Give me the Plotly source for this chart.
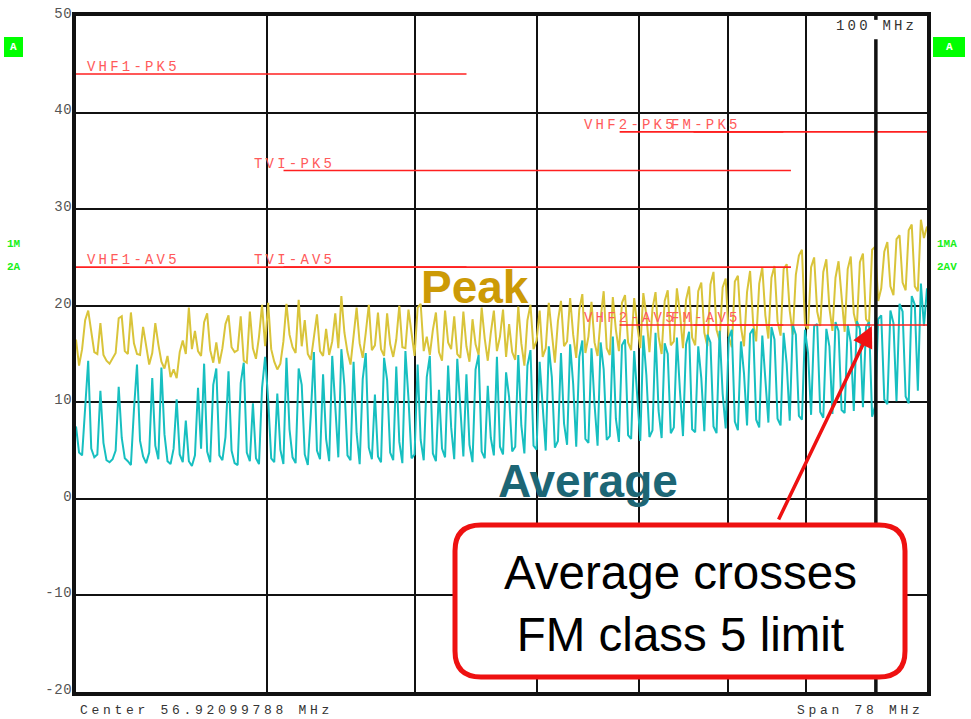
import numpy as np
import plotly.graph_objects as go

# ---- sweep settings (log frequency axis) ----
F_START_MHZ = 30.0
F_STOP_MHZ = 108.0
MARKER_MHZ = 100.0

# ---- measured traces, dBuV, one value per sweep point ----
peak_dbuv = [
    16.5, 13.8, 15.5, 18.5, 19.5, 17.2, 15.2, 15.0, 18.2, 14.9, 14.3, 14.0, 14.6, 15.1, 18.7, 18.9, 15.3, 15.0, 19.3, 16.1,
    15.0, 14.9, 17.8, 15.8, 13.9, 15.1, 18.2, 16.0, 14.2, 13.5, 14.8, 12.6, 13.4, 12.5, 15.2, 16.4, 15.0, 19.8, 15.5, 17.4,
    15.3, 14.8, 18.3, 19.2, 15.4, 14.1, 16.2, 14.0, 15.6, 18.1, 19.0, 15.7, 15.2, 15.4, 18.9, 14.3, 14.1, 19.4, 15.6, 14.5,
    16.8, 20.1, 15.8, 20.3, 15.5, 14.2, 13.4, 14.0, 16.3, 20.2, 17.0, 15.7, 15.1, 20.6, 15.8, 18.5, 15.0, 14.4, 16.6, 19.1,
    15.3, 14.8, 17.6, 14.9, 16.3, 19.2, 15.6, 21.0, 17.2, 15.2, 13.9, 16.8, 19.8, 16.1, 14.6, 17.2, 20.1, 15.4, 15.9, 19.3,
    15.5, 14.8, 19.2, 16.0, 14.7, 16.5, 20.0, 15.7, 15.6, 19.6, 17.0, 14.8, 19.8, 20.2, 15.3, 16.8, 14.9, 17.5, 19.3, 15.2,
    14.3, 19.5, 16.2, 15.5, 18.9, 15.0, 14.6, 19.4, 15.8, 14.2, 18.6, 16.0, 14.9, 19.8, 16.6, 14.3, 17.2, 19.5, 15.3, 16.8,
    19.6, 14.7, 18.1, 15.2, 14.4, 19.9, 16.1, 13.8, 18.5, 20.1, 15.5, 16.4, 19.5, 14.7, 15.6, 20.3, 17.2, 14.1, 18.4, 20.5,
    15.8, 16.3, 20.8, 17.0, 14.6, 19.6, 21.2, 15.1, 16.8, 20.4, 16.2, 14.8, 18.7, 21.5, 15.6, 14.9, 20.9, 17.5, 15.3, 20.3,
    21.1, 16.2, 15.4, 20.8, 18.0, 15.6, 21.3, 19.0, 15.2, 19.7, 21.4, 16.8, 15.0, 20.5, 21.6, 15.9, 16.3, 21.8, 19.2, 15.6,
    20.6, 22.0, 16.7, 15.9, 21.5, 22.4, 17.2, 15.8, 22.2, 23.5, 17.5, 16.4, 21.9, 22.8, 16.8, 15.7, 22.5, 23.1, 17.8, 15.8,
    21.4, 23.6, 18.2, 16.3, 22.3, 24.0, 19.0, 16.6, 22.9, 24.1, 18.4, 16.9, 23.8, 24.3, 19.5, 17.0, 23.2, 25.2, 25.8, 18.0,
    17.6, 24.0, 25.0, 19.4, 17.9, 23.5, 24.8, 19.8, 17.4, 22.9, 24.6, 20.6, 17.3, 23.8, 25.1, 19.2, 17.8, 24.5, 25.4, 18.6,
    18.2, 25.8, 26.1, 20.5, 21.8, 25.6, 26.6, 22.0, 21.1, 26.9, 27.3, 22.4, 21.6, 27.8, 28.4, 22.0, 21.5, 28.9, 27.0, 28.2,
]

avg_dbuv = [
    7.5, 4.8, 4.5, 9.8, 14.3, 5.2, 4.3, 4.6, 11.2, 5.8, 4.0, 3.8, 4.1, 5.0, 11.6, 6.3, 4.2, 3.9, 3.5, 9.2,
    13.9, 6.0, 4.4, 3.7, 4.8, 12.5, 5.5, 4.1, 13.6, 6.7, 3.9, 3.6, 5.2, 10.3, 4.6, 3.8, 8.1, 3.9, 3.4, 4.5,
    11.5, 5.2, 14.0, 4.9, 3.8, 11.8, 13.5, 4.5, 4.0, 6.4, 13.2, 5.0, 3.7, 3.5, 12.0, 14.1, 4.8, 3.9, 9.9, 4.2,
    3.6, 11.5, 14.7, 10.3, 4.2, 3.8, 10.9, 5.1, 3.6, 14.6, 7.2, 4.3, 3.7, 13.5, 11.8, 4.6, 3.5, 8.8, 15.2, 5.0,
    4.1, 12.9, 6.2, 3.9, 14.8, 9.6, 4.3, 15.5, 11.7, 4.5, 4.0, 14.2, 6.8, 3.6, 12.4, 15.1, 5.3, 4.1, 10.8, 4.4,
    3.8, 14.6, 12.3, 4.8, 4.0, 13.7, 5.9, 3.7, 15.3, 10.4, 4.2, 4.6, 13.9, 6.1, 4.0, 12.6, 14.8, 4.7, 3.9, 11.3,
    5.2, 4.3, 13.8, 7.4, 4.1, 14.5, 9.2, 4.4, 12.9, 5.6, 3.8, 13.4, 14.9, 4.9, 4.2, 11.7, 6.3, 4.5, 14.7, 5.4,
    4.6, 13.1, 10.5, 4.9, 5.4, 14.9, 7.6, 4.7, 13.8, 15.4, 5.5, 5.1, 14.2, 9.3, 5.0, 15.8, 12.6, 5.3, 6.0, 15.1,
    7.8, 5.6, 16.0, 11.9, 5.4, 14.7, 16.4, 6.2, 5.8, 15.6, 9.8, 5.5, 16.2, 13.4, 6.1, 6.5, 16.8, 8.3, 5.9, 15.9,
    16.5, 6.6, 6.2, 15.3, 10.7, 6.0, 16.9, 12.8, 6.4, 7.1, 17.2, 9.1, 6.3, 16.1, 15.0, 6.8, 7.4, 16.7, 11.2, 6.5,
    16.0, 17.3, 7.2, 6.9, 15.8, 12.5, 7.0, 17.0, 16.2, 7.5, 6.8, 17.4, 10.9, 7.3, 16.6, 17.5, 8.0, 7.1, 16.3, 13.0,
    7.6, 17.1, 17.6, 8.2, 7.4, 16.9, 12.4, 7.9, 17.8, 16.5, 8.3, 7.6, 17.2, 14.0, 8.1, 18.0, 17.0, 8.6, 8.2, 17.5,
    15.1, 8.7, 17.9, 18.1, 9.0, 8.4, 17.6, 15.8, 8.8, 18.3, 17.4, 9.2, 8.9, 18.0, 16.2, 9.1, 18.4, 17.6, 9.5, 17.8,
    18.3, 8.5, 9.6, 18.6, 19.0, 10.3, 9.8, 19.5, 18.2, 10.1, 20.2, 19.4, 10.6, 9.9, 21.0, 20.1, 11.2, 22.3, 17.9, 21.8,
]

# ---- CISPR 25 class 5 limit lines ----
limit_names = ["VHF1-PK5", "VHF1-AV5", "TVI-PK5", "TVI-AV5", "VHF2-PK5", "VHF2-AV5", "FM-PK5", "FM-AV5"]
limit_start_mhz = [30, 30, 41, 41, 68, 68, 76, 76]
limit_stop_mhz = [54, 54, 88, 88, 87, 87, 108, 108]
limit_level_dbuv = [44, 24, 34, 24, 38, 18, 38, 18]
label_anchor_mhz = [30.4, 30.4, 39.1, 39.1, 64.3, 64.3, 73.2, 73.2]

# ---- axis ticks ----
y_ticks = [-20, -10, 0, 10, 20, 30, 40, 50]
x_grid_mhz = [40, 50, 60, 70, 80, 90]

# crossing point pointed at by the callout
cross_mhz = 99.4
cross_dbuv = 17.9

# ---- page geometry ----
W, H = 971, 719
L, R, T, B = 76, 44, 16, 27
PW, PH = W - L - R, H - T - B


def px_x(px):
    return (px - L) / PW


def px_y(py):
    return (H - B - py) / PH


def spaced(s, ls=3.2):
    return f'<span style="letter-spacing:{ls}px">{s}</span>'


MONO = "Liberation Mono, Courier New, monospace"
SANS = "Liberation Sans, Arial, sans-serif"
RED = "#ff2020"
LABEL_RED = "#ff5a5a"
GREEN = "#18f018"

freq_mhz = np.geomspace(F_START_MHZ, F_STOP_MHZ, len(peak_dbuv))

fig = go.Figure()

fig.add_trace(go.Scatter(
    x=freq_mhz, y=peak_dbuv, mode="lines",
    line=dict(color="#d9c43a", width=2), hoverinfo="skip", showlegend=False,
))
fig.add_trace(go.Scatter(
    x=freq_mhz, y=avg_dbuv, mode="lines",
    line=dict(color="#17bfc0", width=2), hoverinfo="skip", showlegend=False,
))

for name, f0, f1, lvl, fa in zip(limit_names, limit_start_mhz, limit_stop_mhz,
                                 limit_level_dbuv, label_anchor_mhz):
    fig.add_trace(go.Scatter(
        x=[f0, f1], y=[lvl, lvl], mode="lines",
        line=dict(color=RED, width=1.6), hoverinfo="skip", showlegend=False,
    ))
    fig.add_annotation(
        x=np.log10(fa), y=lvl, xref="x", yref="y",
        text=spaced(name), showarrow=False,
        xanchor="left", yanchor="bottom", yshift=-3,
        font=dict(family=MONO, size=14, color=LABEL_RED),
    )

# marker line at 100 MHz (broken at the top for its readout)
fig.add_trace(go.Scatter(
    x=[MARKER_MHZ, MARKER_MHZ], y=[-20, 47.6], mode="lines",
    line=dict(color="#111111", width=3.5), hoverinfo="skip", showlegend=False,
))
fig.add_trace(go.Scatter(
    x=[MARKER_MHZ, MARKER_MHZ], y=[49.6, 50], mode="lines",
    line=dict(color="#111111", width=3.5), hoverinfo="skip", showlegend=False,
))
fig.add_annotation(
    x=px_x(919), y=px_y(26), xref="paper", yref="paper",
    text=spaced("100 MHz"), showarrow=False, xanchor="right", yanchor="middle",
    font=dict(family=MONO, size=14, color="#333333"),
)

# footer readouts
fig.add_annotation(
    x=px_x(78), y=px_y(710), xref="paper", yref="paper",
    text=spaced("Center 56.92099788 MHz", 3.7), showarrow=False,
    xanchor="left", yanchor="middle",
    font=dict(family=MONO, size=13, color="#333333"),
)
fig.add_annotation(
    x=px_x(926), y=px_y(710), xref="paper", yref="paper",
    text=spaced("Span 78 MHz", 3.7), showarrow=False,
    xanchor="right", yanchor="middle",
    font=dict(family=MONO, size=13, color="#333333"),
)

# trace status indicators
shapes = []
for x0, x1 in [(4, 23), (933, 965)]:
    shapes.append(dict(
        type="rect", xref="paper", yref="paper",
        x0=px_x(x0), x1=px_x(x1), y0=px_y(57), y1=px_y(37),
        fillcolor="#00ff00", line=dict(width=0), layer="above",
    ))
    fig.add_annotation(
        x=px_x((x0 + x1) / 2), y=px_y(47), xref="paper", yref="paper",
        text="<b>A</b>", showarrow=False, xanchor="center", yanchor="middle",
        font=dict(family=MONO, size=11, color="white"),
    )

for txt, px, py in [("1M", 5, 244), ("2A", 5, 267), ("1MA", 935, 244), ("2AV", 935, 267)]:
    fig.add_annotation(
        x=px_x(px), y=px_y(py), xref="paper", yref="paper",
        text=f"<b>{txt}</b>", showarrow=False, xanchor="left", yanchor="middle",
        font=dict(family=MONO, size=11, color=GREEN),
    )

# trace captions
fig.add_annotation(
    x=px_x(475), y=px_y(287), xref="paper", yref="paper",
    text="<b>Peak</b>", showarrow=False, xanchor="center", yanchor="middle",
    font=dict(family=SANS, size=46, color="#cc9a06"),
)
fig.add_annotation(
    x=px_x(588), y=px_y(481), xref="paper", yref="paper",
    text="<b>Average</b>", showarrow=False, xanchor="center", yanchor="middle",
    font=dict(family=SANS, size=46, color="#1d6675"),
)

# callout box with rounded corners
bx0, bx1, by0, by1 = 455, 905, 525, 677
rad = 26
rx, ry = rad / PW, rad / PH
X0, X1 = px_x(bx0), px_x(bx1)
Y0, Y1 = px_y(by1), px_y(by0)
path = (
    f"M {X0 + rx},{Y1} L {X1 - rx},{Y1} Q {X1},{Y1} {X1},{Y1 - ry} "
    f"L {X1},{Y0 + ry} Q {X1},{Y0} {X1 - rx},{Y0} "
    f"L {X0 + rx},{Y0} Q {X0},{Y0} {X0},{Y0 + ry} "
    f"L {X0},{Y1 - ry} Q {X0},{Y1} {X0 + rx},{Y1} Z"
)
shapes.append(dict(
    type="path", xref="paper", yref="paper", path=path,
    fillcolor="white", line=dict(color="#ee1111", width=5), layer="above",
))
fig.add_annotation(
    x=px_x(680), y=px_y(603), xref="paper", yref="paper",
    text="Average crosses<br>FM class 5 limit", showarrow=False,
    xanchor="center", yanchor="middle",
    font=dict(family=SANS, size=47.5, color="black"),
)

# arrow from the callout to the crossing
fig.add_annotation(
    x=np.log10(cross_mhz), y=cross_dbuv, xref="x", yref="y",
    text="", showarrow=True, ax=-94, ay=195,
    arrowhead=2, arrowsize=1.2, arrowwidth=3.5, arrowcolor="#ee1111",
)

fig.update_layout(
    width=W, height=H,
    margin=dict(l=L, r=R, t=T, b=B, autoexpand=False),
    paper_bgcolor="white", plot_bgcolor="white",
    shapes=shapes,
    showlegend=False,
    xaxis=dict(
        type="log", range=[np.log10(F_START_MHZ), np.log10(F_STOP_MHZ)],
        tickvals=x_grid_mhz, showticklabels=False, ticks="",
        showgrid=True, gridcolor="#111111", gridwidth=2,
        showline=True, mirror=True, linecolor="#111111", linewidth=4,
        zeroline=False, fixedrange=True, automargin=False,
    ),
    yaxis=dict(
        range=[-20, 50], tickvals=y_ticks,
        ticktext=[spaced(str(v), 0.6) for v in y_ticks], ticks="",
        tickfont=dict(family=MONO, size=14, color="#555555"),
        ticklabelstandoff=-3, ticklabelshift=-3,
        showgrid=True, gridcolor="#111111", gridwidth=2,
        showline=True, mirror=True, linecolor="#111111", linewidth=4,
        zeroline=False, fixedrange=True, automargin=False,
    ),
)

fig.write_html("out.html")
